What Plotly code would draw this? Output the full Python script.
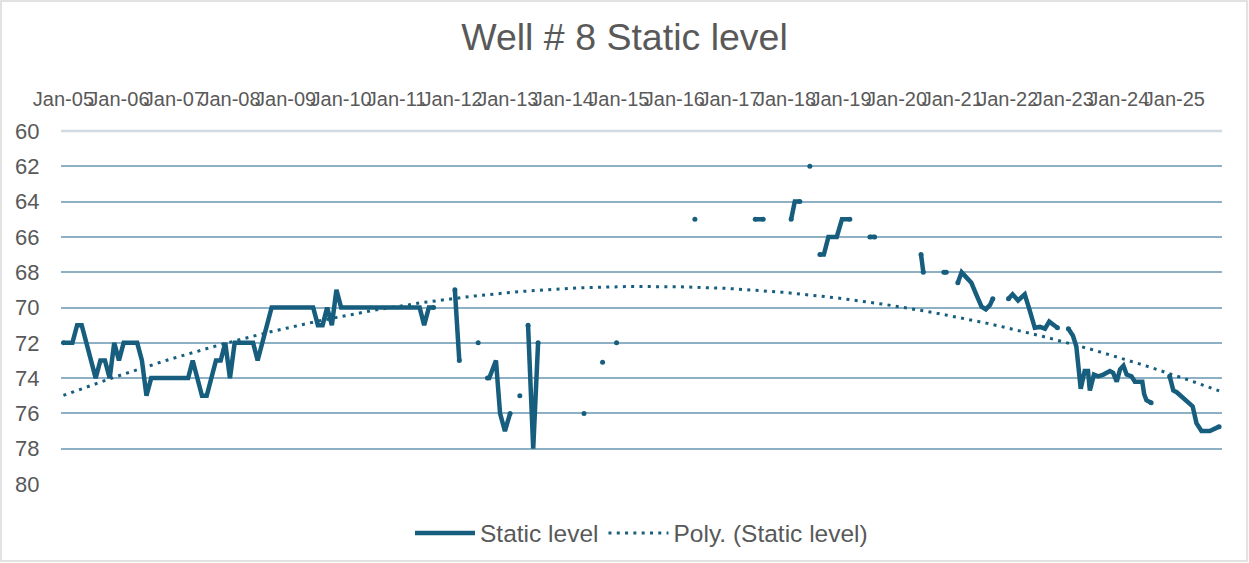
import numpy as np
import pandas as pd
import plotly.graph_objects as go

TITLE = "Well # 8 Static level"
SERIES_NAME = "Static level"
TREND_NAME = "Poly. (Static level)"

# Monthly readings, Jan-2005 .. Sep-2011
monthly_start = "2005-01-01"
monthly_levels = [
    72, 72, 72, 71, 71, 72, 73, 74, 73, 73, 74, 72,   # 2005
    73, 72, 72, 72, 72, 73, 75, 74, 74, 74, 74, 74,   # 2006
    74, 74, 74, 74, 73, 74, 75, 75, 74, 73, 73, 72,   # 2007
    74, 72, 72, 72, 72, 72, 73, 72, 71, 70, 70, 70,   # 2008
    70, 70, 70, 70, 70, 70, 70, 71, 71, 70, 71, 69,   # 2009
    70, 70, 70, 70, 70, 70, 70, 70, 70, 70, 70, 70,   # 2010
    70, 70, 70, 70, 70, 70, 71, 70, 70,               # 2011
]

# Later, irregular readings (None = no reading -> gap in the line)
later_dates = [
    "2011-11-01",
    "2012-01-19", "2012-02-17", "2012-04-01",
    "2012-06-20", "2012-07-20",
    "2012-08-20", "2012-09-01", "2012-10-15", "2012-11-11", "2012-12-13", "2013-01-16", "2013-02-15",
    "2013-03-21", "2013-04-15",
    "2013-05-14", "2013-06-17", "2013-07-19", "2013-10-01",
    "2014-05-17", "2014-07-01",
    "2014-09-16", "2014-11-01",
    "2014-12-17", "2015-06-01",
    "2016-05-15", "2016-10-01",
    "2017-06-16", "2017-08-07", "2017-11-01",
    "2018-02-07", "2018-03-03", "2018-04-05", "2018-05-10",
    "2018-06-10", "2018-07-15",
    "2018-08-15", "2018-09-10", "2018-10-10", "2018-12-04", "2019-01-07", "2019-02-28", "2019-05-01",
    "2019-07-10", "2019-08-10", "2019-12-01",
    "2020-06-10", "2020-06-25", "2020-09-01",
    "2020-11-07", "2020-11-23", "2021-01-01",
    "2021-02-07", "2021-03-04", "2021-04-10", "2021-05-07", "2021-06-10", "2021-07-13",
    "2021-08-10", "2021-09-07", "2021-09-25", "2021-11-15",
    "2022-01-06", "2022-02-02", "2022-03-10", "2022-04-23", "2022-05-25", "2022-06-28",
    "2022-08-01", "2022-09-03", "2022-10-01", "2022-10-27", "2022-11-24", "2022-12-20",
    "2023-02-04", "2023-03-06", "2023-03-28", "2023-04-26", "2023-05-22", "2023-06-13",
    "2023-06-25", "2023-07-22", "2023-08-19", "2023-09-22", "2023-11-04", "2023-11-25",
    "2023-12-19", "2024-01-10", "2024-02-01", "2024-02-22", "2024-03-25", "2024-04-16",
    "2024-05-07", "2024-06-04", "2024-06-16", "2024-07-01", "2024-08-01", "2024-10-01",
    "2024-12-01", "2024-12-25", "2025-01-16", "2025-02-18", "2025-03-21", "2025-05-01",
    "2025-05-26", "2025-06-28", "2025-08-22", "2025-10-01", "2025-10-22",
]
later_levels = [
    None,
    69, 73, None,
    72, None,
    74, 74, 73, 76, 77, 76, None,
    75, None,
    71, 78, 72, None,
    76, None,
    73.1, None,
    72, None,
    65, None,
    65, 65, None,
    65, 64, 64, None,
    62, None,
    67, 67, 66, 66, 65, 65, None,
    66, 66, None,
    67, 68, None,
    68, 68, None,
    68.6, 68.0, 68.35, 68.6, 69.3, 69.95,
    70.1, 69.85, 69.5, None,
    69.5, 69.25, 69.6, 69.25, 70.15, 71.15,
    71.1, 71.2, 70.8, 71.0, 71.15, None,
    71.2, 71.6, 72.2, 74.6, 73.6, 73.6,
    74.7, 73.8, 73.9, 73.8, 73.6, 73.7,
    74.2, 73.5, 73.3, 73.8, 73.9, 74.2,
    74.2, 74.2, 74.9, 75.25, 75.4, None,
    73.9, 74.7, 74.8, 75.05, 75.35, 75.6,
    76.55, 77.0, 77.0, 76.85, 76.75,
]

# Axis settings
x_range = ["2004-12-16", "2025-11-10"]
y_range = [80, 60]

LINE_COLOR = "#175E7E"
GRID_COLOR = "#8DB0C4"
TEXT_COLOR = "#595959"
FONT = "Liberation Sans, Arial, sans-serif"
LW = 4.5

dates = list(pd.date_range(monthly_start, periods=len(monthly_levels), freq="MS")) + list(pd.to_datetime(later_dates))
levels = list(monthly_levels) + list(later_levels)
df = pd.DataFrame({"date": dates, "level": levels})


def _missing(v):
    return v is None or (isinstance(v, float) and np.isnan(v))


# Segment end points -> round-cap look / isolated readings as dots
vals = df["level"].tolist()
cap_idx = []
for i, v in enumerate(vals):
    if _missing(v):
        continue
    prev_gap = i == 0 or _missing(vals[i - 1])
    next_gap = i == len(vals) - 1 or _missing(vals[i + 1])
    if prev_gap or next_gap:
        cap_idx.append(i)
caps = df.iloc[cap_idx]

# Polynomial (order 2) trendline fitted to the readings
valid = df.dropna()
t0 = valid["date"].min()
tx = (valid["date"] - t0).dt.days.to_numpy(dtype=float)
coef = np.polyfit(tx, valid["level"].to_numpy(dtype=float), 2)
grid_days = np.linspace(tx.min(), tx.max(), 400)
trend_dates = t0 + pd.to_timedelta(grid_days, unit="D")
trend_vals = np.polyval(coef, grid_days)

fig = go.Figure()
fig.add_trace(go.Scatter(
    x=df["date"], y=df["level"], mode="lines", name=SERIES_NAME,
    line=dict(color=LINE_COLOR, width=LW), connectgaps=False,
    legendgroup="s",
))
fig.add_trace(go.Scatter(
    x=caps["date"], y=caps["level"], mode="markers", showlegend=False,
    marker=dict(color=LINE_COLOR, size=LW + 0.5, line=dict(width=0)),
    legendgroup="s", hoverinfo="skip",
))
fig.add_trace(go.Scatter(
    x=trend_dates, y=trend_vals, mode="lines", name=TREND_NAME,
    line=dict(color=LINE_COLOR, width=3, dash="3px,5.3px"),
))

W, H = 1249, 563
ml, mr, mt, mb = 61, 27, 131, 79
pw, ph = W - ml - mr, H - mt - mb

fig.update_layout(
    width=W, height=H,
    margin=dict(l=ml, r=mr, t=mt, b=mb, autoexpand=False),
    paper_bgcolor="white", plot_bgcolor="white",
    font=dict(family=FONT, color=TEXT_COLOR),
    title=dict(text=TITLE, x=0.5, xref="container", xanchor="center",
               y=1 - 37 / H, yref="container", yanchor="middle",
               font=dict(size=37.5, color=TEXT_COLOR, family=FONT)),
    showlegend=True,
    legend=dict(orientation="h", x=0.5, xanchor="center", y=-49 / ph, yanchor="middle",
                font=dict(size=24.5, color=TEXT_COLOR, family=FONT), itemwidth=60,
                bgcolor="rgba(0,0,0,0)"),
    xaxis=dict(type="date", range=x_range, side="top", tickformat="%b-%y",
               dtick="M12", tick0="2005-01-01", tickangle=0, automargin=False,
               showgrid=False, zeroline=False, showline=False,
               ticks="outside", ticklen=16, tickcolor="rgba(0,0,0,0)",
               tickfont=dict(size=20, color=TEXT_COLOR, family=FONT)),
    yaxis=dict(range=y_range, dtick=2, tick0=60, showgrid=True, automargin=False,
               gridcolor=GRID_COLOR, gridwidth=2, zeroline=False,
               ticks="outside", ticklen=16, tickcolor="rgba(0,0,0,0)",
               tickfont=dict(size=22, color=TEXT_COLOR, family=FONT)),
    shapes=[
        dict(type="line", xref="paper", yref="paper", x0=0, x1=1, y0=1, y1=1,
             line=dict(color="#D0DBE2", width=2.5), layer="above"),
        dict(type="rect", xref="paper", yref="paper",
             x0=(1 - ml) / pw, x1=(W - 2 - ml) / pw,
             y0=(ph + mt - (H - 2)) / ph, y1=(ph + mt - 1) / ph,
             line=dict(color="#D9D9D9", width=1.5), fillcolor="rgba(0,0,0,0)"),
    ],
)

fig.write_html(
    "out.html",
    config={"displayModeBar": False},
    post_script="document.body.style.margin='0';document.body.style.overflow='hidden';",
)
